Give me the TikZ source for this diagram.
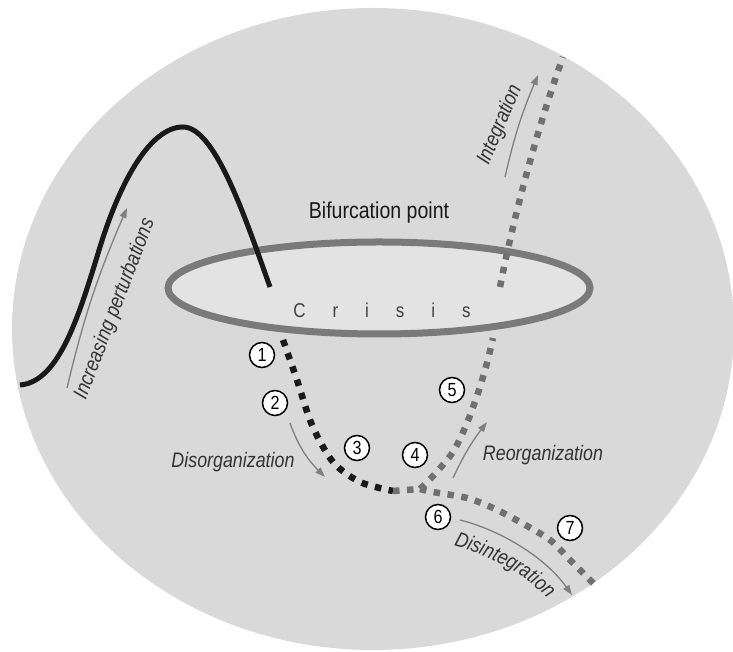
\documentclass[tikz,border=0pt]{standalone}
\usepackage{fontspec}
\setmainfont{Liberation Sans}
\newfontfamily\cf[FakeStretch=0.85]{Liberation Sans}
\usetikzlibrary{arrows.meta,decorations.text}
\definecolor{bg}{HTML}{D9D9D9}
\definecolor{diskfill}{HTML}{E3E3E3}
\definecolor{ring}{HTML}{7A7A7A}
\definecolor{labelc}{HTML}{333333}
\definecolor{dotk}{HTML}{1A1A1A}
\definecolor{dotg}{HTML}{707070}
\definecolor{arrowc}{HTML}{808080}
\begin{document}
\begin{tikzpicture}[x=1pt,y=1pt,
  lbl/.style={font=\cf\itshape\fontsize{21}{24}\selectfont, text=labelc, inner sep=0pt},
  num/.style={circle, draw=black, line width=1.5pt, fill=white, minimum size=25pt, inner sep=0pt, font=\cf\fontsize{19}{21}\selectfont},
  dotblack/.style={draw=dotk, line width=6.5pt, dash pattern=on 6.5pt off 7.5pt},
  dotgray/.style={draw=dotg, line width=6.5pt, dash pattern=on 6.5pt off 7.5pt},
  garrow/.style={draw=arrowc, line width=1.3pt, -{Triangle[length=10pt,width=7pt]}}
]
\useasboundingbox (0,0) rectangle (733,652);
% background disc
\fill[bg] (373,323) ellipse [x radius=361, y radius=321];
% crisis disc
\draw[ring, line width=7pt, fill=diskfill] (379,364) ellipse [x radius=211, y radius=46];
% solid black trajectory
\coordinate (tstart) at (20,267);
\coordinate (tend) at (270,365);
\draw[black!90, line width=5pt] (tstart) .. controls (60,270) and (80,340) .. (100,405)
  .. controls (120,470) and (150,525) .. (183,525)
  .. controls (215,525) and (245,435) .. (tend);
% dotted paths
\coordinate (junction) at (420,163);
\coordinate (bottom) at (393,161);
\draw[dotblack] plot[smooth] coordinates {(283,312) (297,272) (312,227) (333,190) (360,170) (393,161)};
\draw[dotgray] (bottom) -- (junction);
\draw[dotgray] plot[smooth] coordinates {(420,163) (433,176) (453,200) (467,229) (478,259) (487,289) (493,314)};
\draw[dotgray] (500,365) .. controls (515,442) and (540,532) .. (563,595);
\draw[dotgray] plot[smooth] coordinates {(420,163) (433,160) (467,154) (493,144) (520,130) (550,112) (570,92) (595,67)};
% arrows
\coordinate (p1) at (67,264); \coordinate (p2) at (127,444);
\draw[garrow] (p1) to[bend left=5] (p2);
\coordinate (i1) at (505,475); \coordinate (i2) at (538,577);
\draw[garrow] (i1) to[bend left=5] (i2);
\coordinate (d1) at (290,229); \coordinate (d2) at (325,175);
\draw[garrow] (d1) to[out=-70, in=135] (d2);
\coordinate (r1) at (453,174); \coordinate (r2) at (487,230);
\draw[garrow] (r1) to[bend left=6] (r2);
\coordinate (s1) at (460,132); \coordinate (s2) at (572,57);
\draw[garrow] (s1) .. controls (500,122) and (545,95) .. (s2);
% labels
\node[lbl, rotate=69] (incr) at (115,343) {Increasing perturbations};
\node[lbl, rotate=67] (integ) at (500,527) {Integration};
\node[lbl] (disorg) at (233,190) {Disorganization};
\node[lbl] (reorg) at (543,197) {Reorganization};
\node[font=\cf\fontsize{23}{26}\selectfont, text=black!90, inner sep=0pt] (bif) at (379,439) {Bifurcation point};
\node[font=\cf\fontsize{20}{24}\selectfont, text=black!75, inner sep=0pt] (crisis) at (382,342)
  {C\kern27pt r\kern27pt i\kern27pt s\kern27pt i\kern27pt s};
\path[decorate, decoration={text along path, text align=center, text color=labelc,
  text={|\cf\itshape\fontsize{21}{24}\selectfont|Disintegration}}]
  (450,108) .. controls (485,98) and (525,80) .. (550,50);
% numbers
\node[num] (n1) at (262,297) {1};
\node[num] (n2) at (275,249) {2};
\node[num] (n3) at (357,204) {3};
\node[num] (n4) at (415,197) {4};
\node[num] (n5) at (452,262) {5};
\node[num] (n6) at (438,135) {6};
\node[num] (n7) at (570,124) {7};
\end{tikzpicture}
\end{document}
